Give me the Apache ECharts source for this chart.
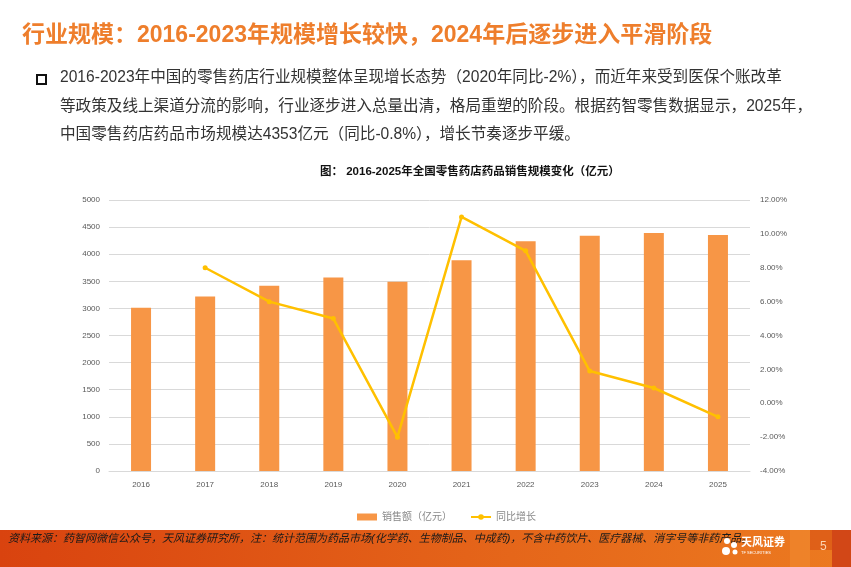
<!DOCTYPE html>
<html>
<head>
<meta charset="utf-8">
<script src="https://cdn.jsdelivr.net/npm/echarts@6/dist/echarts.min.js"></script>
<style>
  html, body { margin: 0; padding: 0; background: #fff; }
  #chart { width: 851px; height: 567px; }
</style>
</head>
<body>
<div id="chart"></div>
<script>
const years = ['2016', '2017', '2018', '2019', '2020', '2021', '2022', '2023', '2024', '2025'];
const sales = [3010, 3220, 3420, 3570, 3490, 3890, 4240, 4340, 4390, 4353];
const growth = [null, 8.0, 6.0, 5.0, -2.0, 11.0, 9.0, 1.9, 0.9, -0.8];

const pageTitle = '行业规模：2016-2023年规模增长较快，2024年后逐步进入平滑阶段';
const bodyLines = [
  '2016-2023年中国的零售药店行业规模整体呈现增长态势（2020年同比-2%），而近年来受到医保个账改革',
  '等政策及线上渠道分流的影响，行业逐步进入总量出清，格局重塑的阶段。根据药智零售数据显示，2025年，',
  '中国零售药店药品市场规模达4353亿元（同比-0.8%），增长节奏逐步平缓。'
];
const chartTitle = '图： 2016-2025年全国零售药店药品销售规模变化（亿元）';
const sourceNote = '资料来源：药智网微信公众号，天风证券研究所，注：统计范围为药品市场(化学药、生物制品、中成药)，不含中药饮片、医疗器械、消字号等非药产品。';

const FONT = '"Liberation Sans", "Noto Sans CJK SC", sans-serif';
const chart = echarts.init(document.getElementById('chart'));

// slide decorations: title, bullet text, footer band
const graphics = [
  { type: 'text', left: 22, top: 24,
    style: { text: pageTitle, fontSize: 23, fontWeight: 'bold', fontFamily: FONT, fill: '#EE7E2C' } },
  { type: 'rect', shape: { x: 37, y: 75, width: 9, height: 9 },
    style: { fill: 'none', stroke: '#111', lineWidth: 2 } },
  { type: 'text', left: 320, top: 166, style: { text: chartTitle, fontSize: 11.5, fontWeight: 'bold', fontFamily: FONT, fill: '#111' } },
  { type: 'rect', shape: { x: 0, y: 530, width: 851, height: 37 },
    style: { fill: new echarts.graphic.LinearGradient(0, 0, 1, 0, [
      { offset: 0, color: '#D9430F' }, { offset: 0.6, color: '#E5661A' }, { offset: 1, color: '#EC7A20' }]) } },
  { type: 'rect', shape: { x: 790, y: 530, width: 20, height: 37 }, style: { fill: 'rgba(240,140,50,0.55)' } },
  { type: 'rect', shape: { x: 810, y: 530, width: 22, height: 20 }, style: { fill: 'rgba(215,80,20,0.6)' } },
  { type: 'rect', shape: { x: 832, y: 530, width: 19, height: 37 }, style: { fill: 'rgba(200,50,20,0.7)' } },
  { type: 'text', left: 8, top: 533,
    style: { text: sourceNote, fontSize: 11, fontStyle: 'italic', fontFamily: FONT, fill: '#1a1a1a' } },
  { type: 'circle', shape: { cx: 727, cy: 541, r: 3 }, style: { fill: '#fff' } },
  { type: 'circle', shape: { cx: 734, cy: 545, r: 3 }, style: { fill: '#fff' } },
  { type: 'circle', shape: { cx: 726, cy: 551, r: 4 }, style: { fill: '#fff' } },
  { type: 'circle', shape: { cx: 735, cy: 552, r: 2.5 }, style: { fill: '#fff' } },
  { type: 'text', left: 741, top: 537, style: { text: '天风证券', fontSize: 11, fontWeight: 'bold', fontFamily: FONT, fill: '#fff' } },
  { type: 'text', left: 741, top: 551, style: { text: 'TF SECURITIES', fontSize: 4, fontFamily: FONT, fill: '#fff' } },
  { type: 'text', left: 820, top: 541, style: { text: '5', fontSize: 12, fontFamily: FONT, fill: '#FBD3B0' } }
];
bodyLines.forEach((line, i) => {
  graphics.push({ type: 'text', left: 60, top: 70 + i * 28.5,
    style: { text: line, fontSize: 15.6, fontFamily: FONT, fill: '#333' } });
});

const option = {
  animation: false,
  textStyle: { fontFamily: FONT },
  grid: { left: 109, right: 101, top: 200, bottom: 96 },
  legend: {
    bottom: 40, left: 352, itemGap: 18, itemWidth: 20, itemHeight: 7,
    textStyle: { fontSize: 10, color: '#888' },
    data: [
      { name: '销售额（亿元）', icon: 'rect' },
      { name: '同比增长' }
    ]
  },
  xAxis: {
    type: 'category', data: years,
    axisLine: { lineStyle: { color: '#D9D9D9' } },
    axisTick: { show: false },
    axisLabel: { color: '#595959', fontSize: 8, margin: 10 }
  },
  yAxis: [
    {
      type: 'value', min: 0, max: 5000, interval: 500,
      axisLine: { show: false }, axisTick: { show: false },
      splitLine: { lineStyle: { color: '#D9D9D9' } },
      axisLabel: { color: '#595959', fontSize: 8, margin: 9, formatter: v => String(v) }
    },
    {
      type: 'value', min: -4, max: 12, interval: 2,
      axisLine: { show: false }, axisTick: { show: false },
      splitLine: { show: false },
      axisLabel: { color: '#595959', fontSize: 8, margin: 10, formatter: v => v.toFixed(2) + '%' }
    }
  ],
  series: [
    {
      name: '销售额（亿元）', type: 'bar', data: sales, barWidth: 20,
      itemStyle: { color: '#F79646' }
    },
    {
      name: '同比增长', type: 'line', yAxisIndex: 1, data: growth,
      symbol: 'circle', symbolSize: 5,
      lineStyle: { color: '#FFC000', width: 2.5 },
      itemStyle: { color: '#FFC000' }
    }
  ],
  graphic: graphics
};
chart.setOption(option);
</script>
</body>
</html>
